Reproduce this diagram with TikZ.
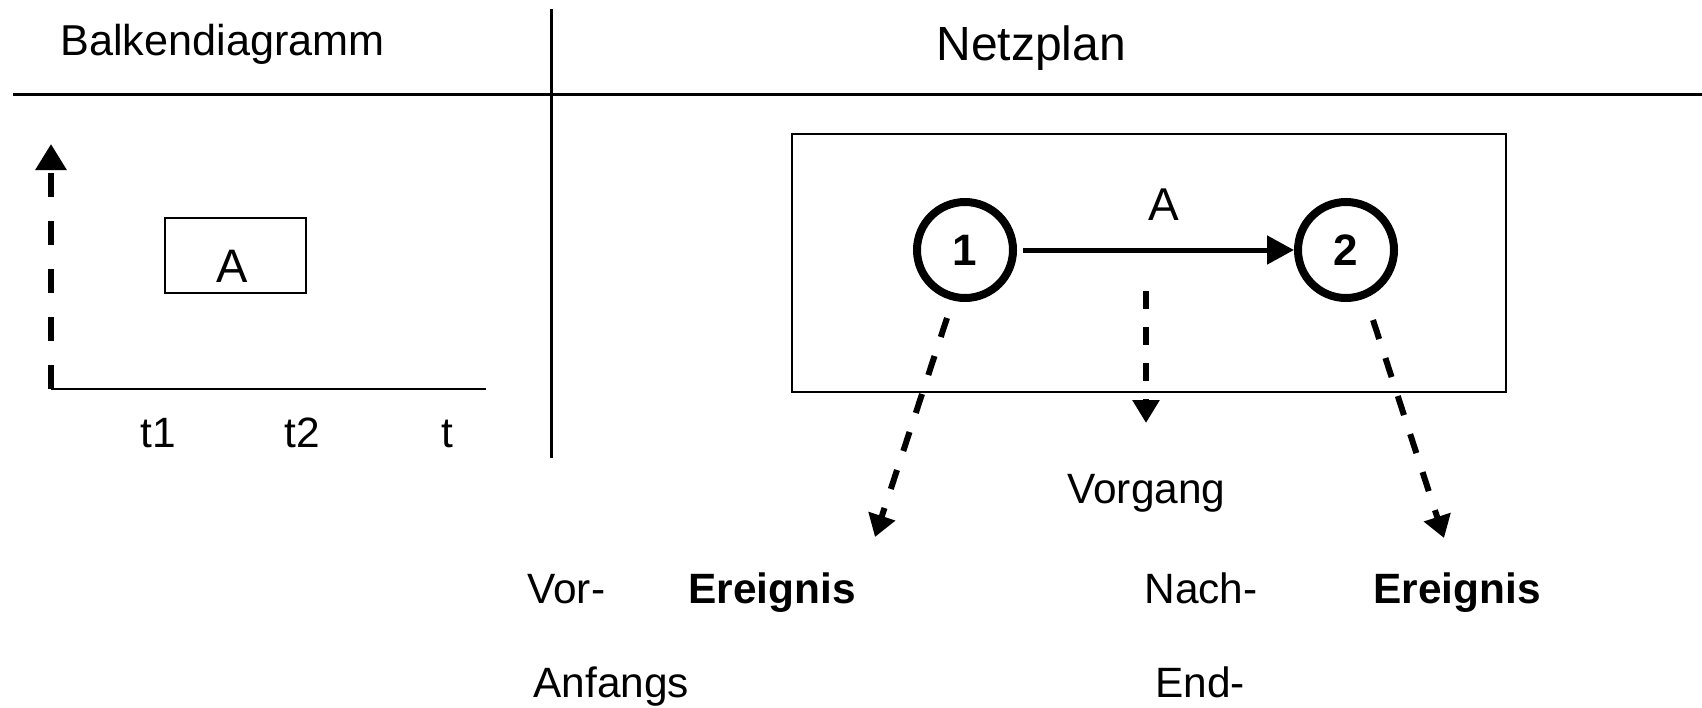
\documentclass[tikz,border=0pt]{standalone}
\usepackage{fontspec}
\setmainfont{Liberation Sans}
\usetikzlibrary{arrows.meta}

\begin{document}
\begin{tikzpicture}[x=0.5pt,y=0.5pt,yscale=-1,xscale=1,
  txt/.style={inner sep=0pt,anchor=base west,font=\fontsize{21.2}{25}\selectfont},
  event/.style={circle,draw,line width=4pt,minimum size=48pt,inner sep=0pt,font=\bfseries\fontsize{22}{26}\selectfont},
  dasharrow/.style={line width=3pt,dash pattern=on 10pt off 10pt,-{Triangle[length=11pt,width=13.5pt]}}]
\useasboundingbox (0,0) rectangle (1702,707);

%Straight Lines: header and divider
\draw [line width=1.5pt] (13,94) -- (1702,94) ;
\draw [line width=1.5pt] (551,9) -- (551,458) ;

% Text Node
\node [txt,font=\fontsize{21.6}{25}\selectfont] (balken) at (60,55) {Balkendiagramm};
% Text Node
\node [txt,font=\fontsize{24}{28}\selectfont] (netzplan) at (936,60) {Netzplan};

%Shape: axes of the bar chart
\coordinate (ursprung) at (51,389);
\coordinate (yspitze) at (51,144);
\coordinate (xende) at (486,389);
\draw [line width=3pt,dash pattern=on 12pt off 12pt,-{Triangle[length=13pt,width=15pt]}] (ursprung) -- (yspitze) ;
\draw [line width=1pt] (ursprung) -- (xende) ;

%Shape: Rectangle
\draw [line width=1.25pt] (165,218) rectangle (306,293) ;
% Text Node
\node [txt,anchor=base,font=\fontsize{23.5}{28}\selectfont] (balkenA) at (232,282) {A};
% Text Node
\node [txt,anchor=base] (t1) at (158,447) {t1};
\node [txt,anchor=base] (t2) at (302,447) {t2};
\node [txt,anchor=base] (t) at (447,447) {t};

%Shape: Rectangle
\draw [line width=1.25pt] (792,134) rectangle (1506,392) ;

%Shape: Circle
\node [event] (e1) at (965,250) {1};
\node [event] (e2) at (1346,250) {2};
%Straight Lines
\draw [line width=2.5pt,shorten <=3pt,-{Triangle[length=13.5pt,width=14pt]}] (e1) -- (e2) ;
% Text Node
\node [txt,anchor=base,font=\fontsize{23}{28}\selectfont] (vorgangA) at (1164,220) {A};

%Dashed arrows to the labels
\coordinate (vorstart) at (947,318);
\coordinate (vorende) at (875,537);
\coordinate (vgstart) at (1146,291);
\coordinate (vgende) at (1146,423);
\coordinate (nachstart) at (1373,320);
\coordinate (nachende) at (1444,538);
\draw [dasharrow] (vorstart) -- (vorende) ;
\draw [dasharrow,dash pattern=on 9pt off 9pt,-{Triangle[length=11.5pt,width=13pt]}] (vgstart) -- (vgende) ;
\draw [dasharrow] (nachstart) -- (nachende) ;

% Text Node
\node [txt] (vorgang) at (1067,503) {Vorgang};
% Text Node
\node [txt] (vor) at (527,603) {Vor-};
\node [txt,font=\bfseries\fontsize{21.2}{25}\selectfont] (ereignis1) at (688,603) {Ereignis};
\node [txt] (anfangs) at (533,697) {Anfangs};
% Text Node
\node [txt] (nach) at (1144,603) {Nach-};
\node [txt,font=\bfseries\fontsize{21.2}{25}\selectfont] (ereignis2) at (1373,603) {Ereignis};
\node [txt] (ende) at (1155,697) {End-};

\end{tikzpicture}
\end{document}
